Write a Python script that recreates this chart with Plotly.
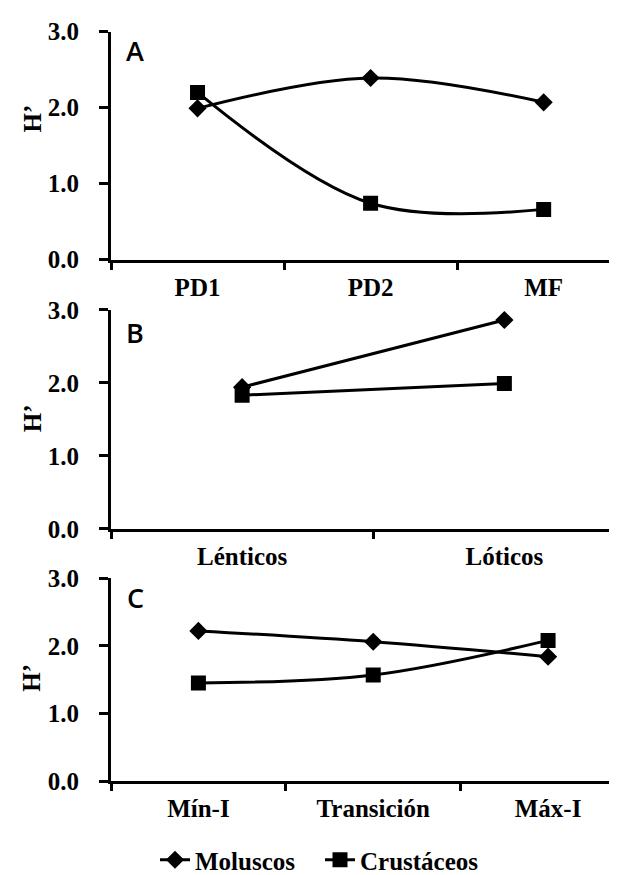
import plotly.graph_objects as go

# ---- data ----
cats_a = ["PD1", "PD2", "MF"]
mol_a = [1.99, 2.39, 2.07]
cru_a = [2.20, 0.74, 0.66]

cats_b = ["Lénticos", "Lóticos"]
mol_b = [1.94, 2.86]
cru_b = [1.83, 1.99]

cats_c = ["Mín-I", "Transición", "Máx-I"]
mol_c = [2.22, 2.06, 1.84]
cru_c = [1.45, 1.57, 2.08]

yticks = [0, 1, 2, 3]
series_names = ["Moluscos", "Crustáceos"]

W, H = 617, 875
SERIF = "Liberation Serif"

fig = go.Figure()

panels = [
    ("x", "y", cats_a, mol_a, cru_a, "spline"),
    ("x2", "y2", cats_b, mol_b, cru_b, "linear"),
    ("x3", "y3", cats_c, mol_c, cru_c, "spline"),
]

for i, (xa, ya, cats, mol, cru, shape) in enumerate(panels):
    fig.add_trace(go.Scatter(
        x=cats, y=mol, xaxis=xa, yaxis=ya, name=series_names[0],
        mode="lines+markers", line=dict(color="black", width=3, shape=shape),
        marker=dict(symbol="diamond", size=14, color="black"),
        legendgroup="m", showlegend=(i == 0)))
    fig.add_trace(go.Scatter(
        x=cats, y=cru, xaxis=xa, yaxis=ya, name=series_names[1],
        mode="lines+markers", line=dict(color="black", width=3, shape=shape),
        marker=dict(symbol="square", size=15, color="black"),
        legendgroup="c", showlegend=(i == 0)))

def px_y(top, bottom):
    return [1 - bottom / H, 1 - top / H]

xdom = [103 / W, 1.0]
ydoms = [px_y(24, 255), px_y(306, 528), px_y(578, 784)]
xranges = [[-0.5, 2.47], [-0.5, 1.46], [-0.5, 2.44]]

tickfont = dict(family=SERIF, size=25, color="black", weight="bold")

layout = dict(
    width=W, height=H, margin=dict(l=0, r=0, t=0, b=0),
    paper_bgcolor="white", plot_bgcolor="white",
    showlegend=True,
    legend=dict(orientation="h", x=147 / W, xanchor="left", y=1 - 864 / H,
                yanchor="middle", font=dict(family=SERIF, size=25, color="black", weight="bold"),
                bgcolor="rgba(0,0,0,0)", itemwidth=30, tracegroupgap=0,
                entrywidth=120, entrywidthmode="pixels"),
)

for i in range(3):
    sx = "xaxis" if i == 0 else f"xaxis{i+1}"
    sy = "yaxis" if i == 0 else f"yaxis{i+1}"
    ya = "y" if i == 0 else f"y{i+1}"
    xa = "x" if i == 0 else f"x{i+1}"
    layout[sx] = dict(domain=xdom, anchor=ya, type="category", range=xranges[i],
                      showline=True, linecolor="black", linewidth=3,
                      ticks="outside", tickson="boundaries", ticklen=7, tickwidth=3,
                      tickcolor="black", showgrid=False, zeroline=False,
                      tickfont=tickfont, ticklabelstandoff=3, automargin=False,
                      fixedrange=True)
    layout[sy] = dict(domain=ydoms[i], anchor=xa, range=[0, 3],
                      tickvals=yticks, ticktext=[f"{v:.1f}" for v in yticks],
                      showline=True, linecolor="black", linewidth=3,
                      ticks="outside", ticklen=9, tickwidth=3, tickcolor="black",
                      showgrid=False, zeroline=False, tickfont=tickfont,
                      ticklabelstandoff=15, automargin=False, fixedrange=True)

fig.update_layout(**layout)

letters = ["A", "B", "C"]
letter_y = [43, 329, 598]
htitle_y = [112, 416, 679]
for i in range(3):
    fig.add_annotation(text=letters[i], xref="paper", yref="paper",
                       x=127 / W, y=1 - letter_y[i] / H, showarrow=False,
                       xanchor="center", yanchor="middle",
                       font=dict(family="Open Sans", size=27, color="black", weight=600))
    fig.add_annotation(text="H’", xref="paper", yref="paper",
                       x=24 / W, y=1 - htitle_y[i] / H, showarrow=False,
                       textangle=-90, xanchor="center", yanchor="middle",
                       font=dict(family=SERIF, size=25, color="black", weight="bold"))

fig.write_html("out.html")
